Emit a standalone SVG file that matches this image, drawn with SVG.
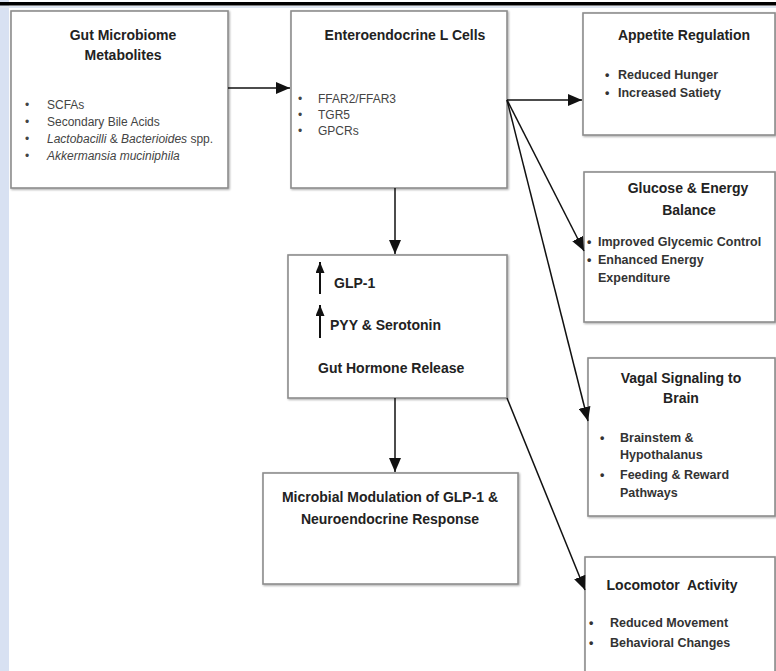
<svg xmlns="http://www.w3.org/2000/svg" width="776" height="671" viewBox="0 0 776 671">
<defs>
<marker id="ah" viewBox="0 0 14 12" refX="14" refY="6" markerWidth="14" markerHeight="12" markerUnits="userSpaceOnUse" orient="auto">
<path d="M0,0 L14,6 L0,12 Z" fill="#111"/>
</marker>
<marker id="up" viewBox="0 0 11 9" refX="11" refY="4.5" markerWidth="11" markerHeight="9" markerUnits="userSpaceOnUse" orient="auto">
<path d="M0,0 L11,4.5 L0,9 Z" fill="#111"/>
</marker>
<filter id="sh" x="-5%" y="-5%" width="110%" height="110%">
<feGaussianBlur in="SourceAlpha" stdDeviation="0.8"/>
<feOffset dx="1" dy="1" result="b"/>
<feComponentTransfer><feFuncA type="linear" slope="0.35"/></feComponentTransfer>
<feMerge><feMergeNode/><feMergeNode in="SourceGraphic"/></feMerge>
</filter>
</defs>
<style>
.box{fill:#fff;stroke:#8c8c8c;stroke-width:1.6}
.t{font-family:"Liberation Sans",Arial,sans-serif;font-weight:bold;font-size:14px;fill:#222}
.b{font-family:"Liberation Sans",Arial,sans-serif;font-size:12px;fill:#444}
.bb{font-family:"Liberation Sans",Arial,sans-serif;font-weight:bold;font-size:12.5px;fill:#333}
.c{stroke:#111;stroke-width:1.5;fill:none}
.u{stroke:#111;stroke-width:2;fill:none}
</style>
<rect x="0" y="0" width="776" height="671" fill="#fff"/>
<rect x="0" y="0" width="9" height="671" fill="#d8e1f2"/>
<rect x="0" y="6" width="776" height="2" fill="#dde4ef"/>
<rect x="0" y="2" width="776" height="3.5" fill="#000"/>

<g id="gut-microbiome">
<rect class="box" x="11" y="11" width="217" height="177" filter="url(#sh)"/>
<text class="t" x="123" y="40" text-anchor="middle">Gut Microbiome</text>
<text class="t" x="123" y="60" text-anchor="middle">Metabolites</text>
<text class="b" x="25" y="109">•</text><text class="b" x="47" y="109">SCFAs</text>
<text class="b" x="25" y="126">•</text><text class="b" x="47" y="126">Secondary Bile Acids</text>
<text class="b" x="25" y="143">•</text><text class="b" x="47" y="143"><tspan font-style="italic">Lactobacilli</tspan> &amp; <tspan font-style="italic">Bacterioides</tspan> spp.</text>
<text class="b" x="25" y="160">•</text><text class="b" x="47" y="160" font-style="italic">Akkermansia muciniphila</text>
</g>

<g id="enteroendocrine">
<rect class="box" x="291" y="11" width="216" height="177" filter="url(#sh)"/>
<text class="t" x="405" y="40" text-anchor="middle">Enteroendocrine L Cells</text>
<text class="b" x="298" y="103">•</text><text class="b" x="318" y="103">FFAR2/FFAR3</text>
<text class="b" x="298" y="119">•</text><text class="b" x="318" y="119">TGR5</text>
<text class="b" x="298" y="135">•</text><text class="b" x="318" y="135">GPCRs</text>
</g>

<g id="appetite">
<rect class="box" x="583" y="13" width="192" height="122" filter="url(#sh)"/>
<text class="t" x="684" y="40" text-anchor="middle">Appetite Regulation</text>
<text class="bb" x="605" y="79">•</text><text class="bb" x="618" y="79">Reduced Hunger</text>
<text class="bb" x="605" y="97">•</text><text class="bb" x="618" y="97">Increased Satiety</text>
</g>

<g id="glucose">
<rect class="box" x="584" y="172" width="191" height="150" filter="url(#sh)"/>
<text class="t" x="688" y="193" text-anchor="middle">Glucose &amp; Energy</text>
<text class="t" x="689" y="215" text-anchor="middle">Balance</text>
<text class="bb" x="587" y="246">•</text><text class="bb" x="598" y="246">Improved Glycemic Control</text>
<text class="bb" x="587" y="264">•</text><text class="bb" x="598" y="264">Enhanced Energy</text>
<text class="bb" x="598" y="282">Expenditure</text>
</g>

<g id="vagal">
<rect class="box" x="588" y="358" width="187" height="158" filter="url(#sh)"/>
<text class="t" x="681" y="383" text-anchor="middle">Vagal Signaling to</text>
<text class="t" x="681" y="403" text-anchor="middle">Brain</text>
<text class="bb" x="600" y="442">•</text><text class="bb" x="620" y="442">Brainstem &amp;</text>
<text class="bb" x="620" y="459">Hypothalanus</text>
<text class="bb" x="600" y="479">•</text><text class="bb" x="620" y="479">Feeding &amp; Reward</text>
<text class="bb" x="620" y="497">Pathways</text>
</g>

<g id="locomotor">
<rect class="box" x="585" y="557" width="190" height="130" filter="url(#sh)"/>
<text class="t" x="672" y="590" text-anchor="middle" xml:space="preserve">Locomotor  Activity</text>
<text class="bb" x="589" y="627">•</text><text class="bb" x="610" y="627">Reduced Movement</text>
<text class="bb" x="589" y="647">•</text><text class="bb" x="610" y="647">Behavioral Changes</text>
</g>

<g id="gut-hormone">
<rect class="box" x="288" y="255" width="219" height="143" filter="url(#sh)"/>
<line class="u" x1="320" y1="294" x2="320" y2="262" marker-end="url(#up)"/>
<text class="t" x="334" y="288">GLP-1</text>
<line class="u" x1="320" y1="338" x2="320" y2="305" marker-end="url(#up)"/>
<text class="t" x="330" y="330">PYY &amp; Serotonin</text>
<text class="t" x="318" y="373">Gut Hormone Release</text>
</g>

<g id="microbial-modulation">
<rect class="box" x="263" y="473" width="255" height="111" filter="url(#sh)"/>
<text class="t" x="390" y="502" text-anchor="middle" font-size="14.5">Microbial Modulation of GLP-1 &amp;</text>
<text class="t" x="390" y="524" text-anchor="middle" font-size="14.5">Neuroendocrine Response</text>
</g>

<g id="connectors">
<line class="c" x1="228" y1="88" x2="290" y2="88" marker-end="url(#ah)"/>
<line class="c" x1="395" y1="188" x2="395" y2="254" marker-end="url(#ah)"/>
<line class="c" x1="507" y1="100" x2="582" y2="100" marker-end="url(#ah)"/>
<line class="c" x1="507" y1="100" x2="584" y2="251" marker-end="url(#ah)"/>
<line class="c" x1="507" y1="100" x2="588" y2="421" marker-end="url(#ah)"/>
<line class="c" x1="395" y1="398" x2="395" y2="472" marker-end="url(#ah)"/>
<line class="c" x1="507" y1="398" x2="585" y2="590" marker-end="url(#ah)"/>
</g>
</svg>
